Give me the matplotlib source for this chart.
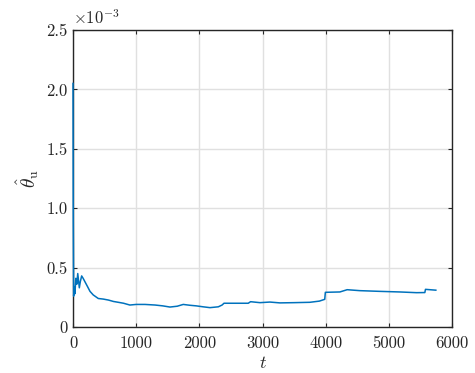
import matplotlib
matplotlib.use("Agg")
import matplotlib.pyplot as plt
import numpy as np

# data (theta in units of 1e-3)
t = [0, 4, 10, 20, 30, 45, 60, 75, 90, 100, 115, 137, 160, 190, 230, 269, 320, 400, 480,
     560, 640, 717, 800, 900, 1000, 1140, 1300, 1420, 1535, 1650, 1745, 1850, 1950, 2060,
     2168, 2300, 2360, 2390, 2500, 2650, 2774, 2811, 2960, 3117, 3275, 3500, 3750, 3900,
     3985, 3995, 4225, 4340, 4541, 4858, 5174, 5438, 5570, 5580, 5744]
theta = [2.05, 0.9, 0.26, 0.34, 0.28, 0.41, 0.36, 0.45, 0.38, 0.33, 0.38, 0.43, 0.41, 0.38,
         0.34, 0.30, 0.27, 0.24, 0.235, 0.227, 0.215, 0.208, 0.20, 0.185, 0.19, 0.19, 0.185,
         0.178, 0.168, 0.175, 0.19, 0.183, 0.178, 0.17, 0.163, 0.17, 0.185, 0.20, 0.20, 0.2,
         0.2, 0.213, 0.205, 0.21, 0.203, 0.205, 0.208, 0.218, 0.233, 0.292, 0.295, 0.314,
         0.306, 0.30, 0.295, 0.289, 0.29, 0.317, 0.31]

xticks = [0, 1000, 2000, 3000, 4000, 5000, 6000]
yticks = [0, 0.5, 1.0, 1.5, 2.0, 2.5]
ytick_labels = ["0", "0.5", "1.0", "1.5", "2.0", "2.5"]

plt.rcParams['font.family'] = 'serif'
plt.rcParams['font.serif'] = ['cmr10', 'DejaVu Serif']
plt.rcParams['mathtext.fontset'] = 'cm'
plt.rcParams['axes.unicode_minus'] = False

fig = plt.figure(figsize=(4.75, 3.73), dpi=100)
ax = fig.add_axes([0.1537, 0.1233, 0.9516 - 0.1537, 0.9196 - 0.1233])

ax.plot(t, theta, color=(0, 0.447, 0.741), lw=1.1, zorder=3, clip_on=False)
ax.set_xlim(0, 6000)
ax.set_ylim(0, 2.5)
ax.set_xticks(xticks)
ax.set_xticklabels([str(v) for v in xticks])
ax.set_yticks(yticks)
ax.set_yticklabels(ytick_labels)
ax.grid(True, color=(0.88, 0.88, 0.88), lw=1.0)
ax.set_axisbelow(True)
for s in ax.spines.values():
    s.set_color((0.15, 0.15, 0.15))
    s.set_linewidth(1.0)
ax.tick_params(direction='in', top=True, right=True, length=3, width=0.8,
               colors=(0.15, 0.15, 0.15), labelsize=12)
ax.tick_params(axis='x', pad=6)
ax.tick_params(axis='y', pad=4)
for lbl in ax.get_xticklabels() + ax.get_yticklabels():
    lbl.set_color((0.15, 0.15, 0.15))

ax.set_xlabel(r'$t$', fontsize=13, color=(0.15, 0.15, 0.15), labelpad=3)
ax.set_ylabel(r'$\hat{\theta}_{\mathrm{u}}$', fontsize=14, color=(0.15, 0.15, 0.15), labelpad=4)
ax.text(0.0, 1.01, r'$\times 10^{\mathrm{-3}}$', transform=ax.transAxes, fontsize=12,
        color=(0.15, 0.15, 0.15), ha='left', va='bottom')

fig.savefig('out.png', dpi=100)
